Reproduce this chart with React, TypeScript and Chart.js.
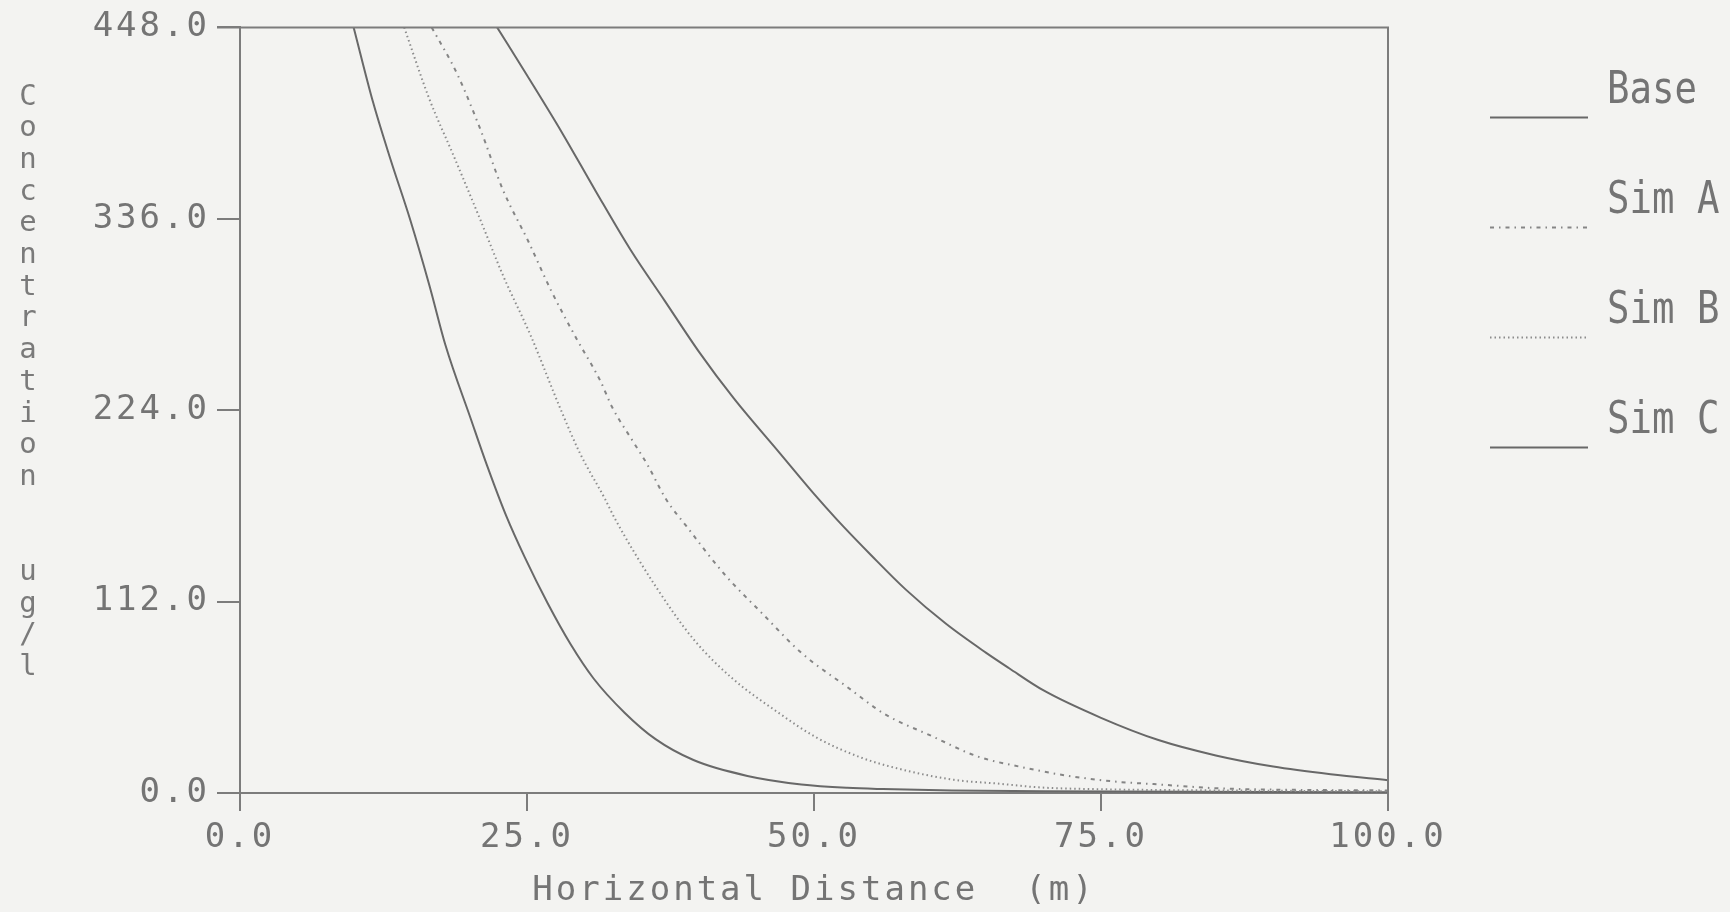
import React, { useEffect, useRef } from "react";
import { Chart, registerables } from "chart.js";

Chart.register(...registerables);

// ---- data ----
const xTickValues = [0, 25, 50, 75, 100];
const yTickValues = [0, 112, 224, 336, 448];

const seriesNames = ["Base", "Sim A", "Sim B", "Sim C"];

const baseX = [22.4, 25, 28, 31, 34, 37, 40, 43, 47, 50, 52, 55, 58, 61.5, 65, 67, 70, 75, 80, 85, 90, 95, 100];
const baseY = [448, 420, 387, 352, 318, 288, 258, 231, 199, 175, 160, 139, 119, 99, 82, 73, 60, 44, 31, 22, 15.5, 11, 7.5];

const simAX = [16.7, 18.9, 20.9, 22.9, 25.1, 27.1, 29.3, 31.4, 32.4, 34.3, 35.5, 37.1, 38.9, 42.2, 45.5, 48.9, 52.9, 56.2, 60.2, 64.2, 68.2, 72.2, 76.2, 79.6, 85, 90, 100];
const simAY = [448, 421, 389, 353, 323, 294, 266, 241, 226, 205, 192, 172, 156, 128, 105, 82, 62, 46, 33.5, 21.5, 15, 10, 6.7, 5.2, 2.8, 2, 1.5];

const simBX = [14.3, 16.5, 18.6, 20.9, 22.9, 25.3, 27.9, 29.6, 31.8, 32.7, 36.2, 39.5, 42.9, 46.9, 50.2, 54.2, 57.5, 62.2, 66.2, 69.6, 75, 85, 100];
const simBY = [448, 406, 373, 336, 303, 268, 225, 199, 172, 160, 121, 90, 67, 47, 32.5, 20.5, 14, 7.7, 5.4, 3.3, 2.2, 1.5, 1];

const simCX = [9.9, 11.6, 13.1, 14.8, 16.5, 17.9, 20.1, 21.5, 23.2, 24.8, 26.8, 28.8, 30.8, 33.5, 36.2, 39.5, 44.2, 48.9, 52.9, 56, 62, 70, 100];
const simCY = [448, 404, 371, 336, 297, 262, 219, 192, 162, 138, 111, 87, 67, 47, 31.5, 19.3, 10, 5, 3, 2.3, 1.5, 1, 0.5];

const yTitleText = "Concentration  ug/l";
const xTitleText = "Horizontal Distance  (m)";

// ---- styles ----
const BG = "#f3f3f1";
const AXIS = "#7c7c7c";
const TEXT = "#747474";
const MONO = '"DejaVu Sans Mono", "Liberation Mono", monospace';

const pts = (xs: number[], ys: number[]) => xs.map((x, i) => ({ x, y: ys[i] }));

const dashes: Record<string, number[]> = {
  Base: [],
  "Sim A": [4, 5, 1.5, 5],
  "Sim B": [1.5, 3],
  "Sim C": [],
};
const colors: Record<string, string> = {
  Base: "#686868",
  "Sim A": "#858585",
  "Sim B": "#8c8c8c",
  "Sim C": "#686868",
};

const SPACING = "3px";

const decor = {
  id: "decor",
  beforeUpdate(chart: any) {
    chart.ctx.letterSpacing = SPACING;
  },
  beforeDraw(chart: any) {
    const ctx = chart.ctx;
    ctx.letterSpacing = SPACING;
    ctx.save();
    ctx.fillStyle = BG;
    ctx.fillRect(0, 0, chart.width, chart.height);
    ctx.restore();
  },
  afterDraw(chart: any) {
    const ctx = chart.ctx;
    const { left, right, top, bottom } = chart.chartArea;
    ctx.save();
    ctx.letterSpacing = "0px";
    // frame: top and right
    ctx.strokeStyle = AXIS;
    ctx.lineWidth = 2;
    ctx.beginPath();
    ctx.moveTo(left - 23, top);
    ctx.lineTo(right, top);
    ctx.lineTo(right, bottom);
    ctx.stroke();

    // y title, stacked letters
    ctx.fillStyle = "#7a7a7a";
    ctx.font = `29px ${MONO}`;
    ctx.textAlign = "center";
    ctx.textBaseline = "middle";
    const chars = Array.from(yTitleText);
    chars.forEach((c, i) => {
      if (c !== " ") ctx.fillText(c, 28, 97 + i * 31.7);
    });

    // legend
    chart.data.datasets.forEach((ds: any, i: number) => {
      const ly = top + 90 + i * 110;
      ctx.strokeStyle = ds.borderColor;
      ctx.lineWidth = 2;
      ctx.setLineDash(ds.borderDash || []);
      ctx.beginPath();
      ctx.moveTo(right + 102, ly);
      ctx.lineTo(right + 200, ly);
      ctx.stroke();
      ctx.setLineDash([]);
      ctx.save();
      ctx.translate(right + 219, ly - 14);
      ctx.scale(0.83, 1);
      ctx.fillStyle = TEXT;
      ctx.font = `45px ${MONO}`;
      ctx.textAlign = "left";
      ctx.textBaseline = "alphabetic";
      ctx.fillText(ds.label, 0, 0);
      ctx.restore();
    });
    ctx.restore();
  },
};

export default function App() {
  const ref = useRef<HTMLCanvasElement | null>(null);

  useEffect(() => {
    if (!ref.current) return;
    const seriesX = [baseX, simAX, simBX, simCX];
    const seriesY = [baseY, simAY, simBY, simCY];
    const chart = new Chart(ref.current, {
      type: "line",
      data: {
        datasets: seriesNames.map((name, i) => ({
          label: name,
          data: pts(seriesX[i], seriesY[i]),
          borderColor: colors[name],
          borderWidth: 2,
          borderDash: dashes[name],
          pointRadius: 0,
          fill: false,
          cubicInterpolationMode: "monotone" as const,
        })),
      },
      options: {
        animation: false,
        responsive: true,
        maintainAspectRatio: false,
        layout: { padding: { left: 0, top: 24, right: 342, bottom: 0 } },
        plugins: { legend: { display: false }, tooltip: { enabled: false } },
        scales: {
          x: {
            type: "linear",
            min: 0,
            max: 100,
            afterFit: (s: any) => {
              s.height = 912 - 793;
            },
            afterBuildTicks: (s: any) => {
              s.ticks = xTickValues.map((v) => ({ value: v }));
            },
            ticks: {
              callback: (v: any) => Number(v).toFixed(1),
              font: { family: MONO, size: 34, lineHeight: 1.2 },
              color: TEXT,
              padding: 7,
              maxRotation: 0,
              autoSkip: false,
            },
            grid: { drawOnChartArea: false, drawTicks: true, tickLength: 18, color: AXIS, lineWidth: 2 },
            border: { display: true, color: AXIS, width: 2 },
            title: {
              display: true,
              text: xTitleText,
              font: { family: MONO, size: 34, lineHeight: 1.2 },
              color: TEXT,
              padding: { top: 0, bottom: 0 },
            },
          },
          y: {
            type: "linear",
            min: 0,
            max: 448,
            afterFit: (s: any) => {
              s.width = 240;
            },
            afterBuildTicks: (s: any) => {
              s.ticks = yTickValues.map((v) => ({ value: v }));
            },
            ticks: {
              callback: (v: any) => Number(v).toFixed(1),
              font: { family: MONO, size: 34, lineHeight: 1.2 },
              color: TEXT,
              padding: 7,
              autoSkip: false,
            },
            grid: { drawOnChartArea: false, drawTicks: true, tickLength: 23, color: AXIS, lineWidth: 2 },
            border: { display: true, color: AXIS, width: 2 },
          },
        },
      },
      plugins: [decor],
    });
    return () => chart.destroy();
  }, []);

  return (
    <div style={{ position: "fixed", left: 0, top: 0, width: 1730, height: 912, background: BG }}>
      <canvas ref={ref} />
    </div>
  );
}
